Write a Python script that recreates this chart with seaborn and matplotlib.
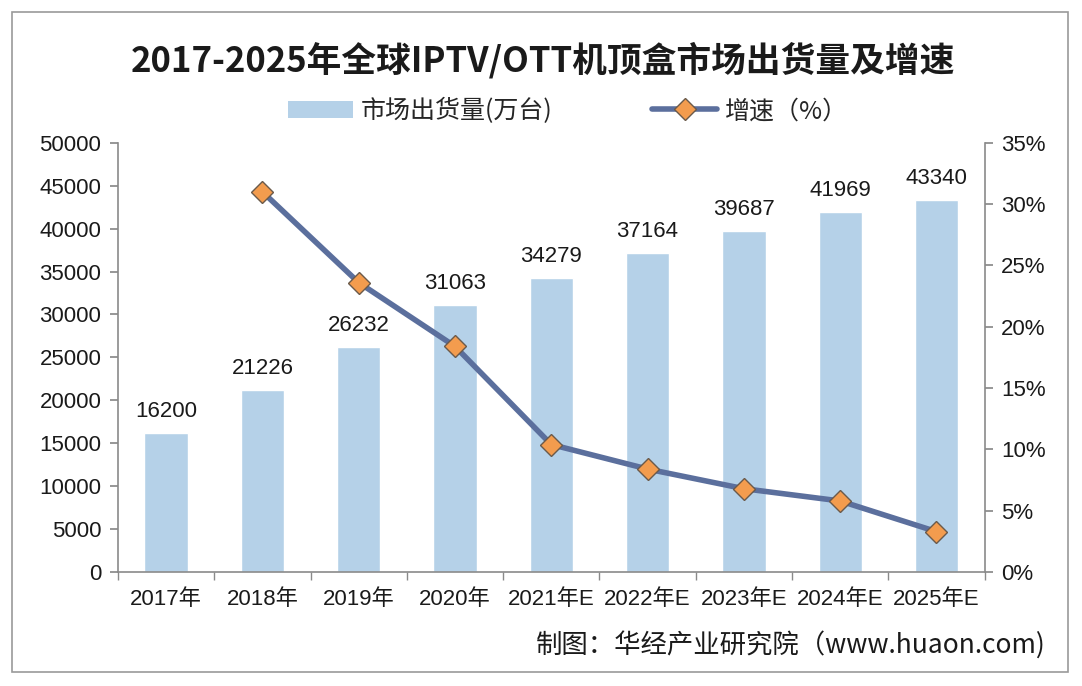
import numpy as np
import pandas as pd
import matplotlib
matplotlib.use("Agg")
import matplotlib.pyplot as plt
from matplotlib.patches import Rectangle, Patch
from matplotlib.lines import Line2D
from matplotlib.ticker import FuncFormatter, MultipleLocator
import seaborn as sns

years = ["2017年", "2018年", "2019年", "2020年", "2021年E",
         "2022年E", "2023年E", "2024年E", "2025年E"]
shipments = [16200, 21226, 26232, 31063, 34279, 37164, 39687, 41969, 43340]
growth = [np.nan, 31.0, 23.6, 18.4, 10.4, 8.4, 6.8, 5.8, 3.3]

title = "2017-2025年全球IPTV/OTT机顶盒市场出货量及增速"
bar_label = "市场出货量(万台)"
line_label = "增速（%）"
source = "制图：华经产业研究院（www.huaon.com)"

bar_color = "#b5d1e8"
line_color = "#5b6f9d"
marker_color = "#f39c4e"
axis_color = "#8a8a8a"

sns.set_theme(style="white")
plt.rcParams["font.family"] = ["Liberation Sans", "Noto Sans CJK SC", "DejaVu Sans"]

df = pd.DataFrame({"year": years, "shipments": shipments, "growth": growth})

fig = plt.figure(figsize=(10.82, 6.86), dpi=100)
fig.patch.set_facecolor("white")
fig.patches.append(Rectangle((12 / 1082, 1 - 672 / 686), 1056 / 1082, 660 / 686,
                             transform=fig.transFigure, fill=False,
                             edgecolor="#9a9a9a", linewidth=1.2))

ax = fig.add_axes([0.109, 0.166, 0.801, 0.626])
sns.barplot(data=df, x="year", y="shipments", color=bar_color, width=0.45,
            saturation=1, ax=ax)
for c in ax.containers:
    ax.bar_label(c, labels=[str(v) for v in shipments], padding=8, fontsize=16,
                 color="#1a1a1a")

ax.set_ylim(0, 50000)
ax.set_xlim(-0.5, len(years) - 0.5)
ax.yaxis.set_major_locator(MultipleLocator(5000))
ax.set_xlabel("")
ax.set_ylabel("")
ax.tick_params(axis="y", which="major", left=True, length=6, color=axis_color,
               labelsize=16, labelcolor="#1a1a1a", pad=6)
ax.tick_params(axis="x", which="major", length=0, labelsize=16,
               labelcolor="#1a1a1a", pad=12)
ax.set_xticks(np.arange(-0.5, len(years), 1.0), minor=True)
ax.tick_params(axis="x", which="minor", bottom=True, length=6, color=axis_color)
for s in ["top", "right"]:
    ax.spines[s].set_visible(False)
for s in ["left", "bottom"]:
    ax.spines[s].set_color(axis_color)
    ax.spines[s].set_linewidth(1.2)

ax2 = ax.twinx()
sns.lineplot(x=np.arange(len(years)), y=df["growth"], ax=ax2, color=line_color,
             linewidth=4, marker="D", markersize=11,
             markerfacecolor=marker_color, markeredgecolor="#6b5a4a",
             markeredgewidth=1)
ax2.set_ylim(0, 35)
ax2.yaxis.set_major_locator(MultipleLocator(5))
ax2.yaxis.set_major_formatter(FuncFormatter(lambda v, p: f"{v:.0f}%"))
ax2.set_ylabel("")
ax2.tick_params(axis="y", right=True, length=6, color=axis_color,
                labelsize=16, labelcolor="#1a1a1a", pad=6)
for s in ["top", "left", "bottom"]:
    ax2.spines[s].set_visible(False)
ax2.spines["right"].set_color(axis_color)
ax2.spines["right"].set_linewidth(1.2)
ax2.set_xlim(-0.5, len(years) - 0.5)

fig.text(0.502, 0.912, title, ha="center", va="center", fontsize=25,
         fontweight="bold", color="#1a1a1a",
         family=["Noto Sans CJK SC", "DejaVu Sans"])

handles = [Patch(facecolor=bar_color, edgecolor="none"),
           Line2D([0], [0], color=line_color, linewidth=4, marker="D",
                  markersize=11, markerfacecolor=marker_color,
                  markeredgecolor="#6b5a4a")]
fig.legend(handles, [bar_label, line_label], loc="center",
           bbox_to_anchor=(0.525, 0.838), ncol=2, frameon=False,
           handlelength=2.6, columnspacing=4, handletextpad=0.3,
           prop={"family": ["Noto Sans CJK SC", "DejaVu Sans"], "size": 18})

fig.text(0.966, 0.06, source, ha="right", va="center", fontsize=19,
         color="#1a1a1a", family=["Noto Sans CJK SC", "DejaVu Sans"])

fig.savefig("out.png", dpi=100, facecolor=fig.get_facecolor())
